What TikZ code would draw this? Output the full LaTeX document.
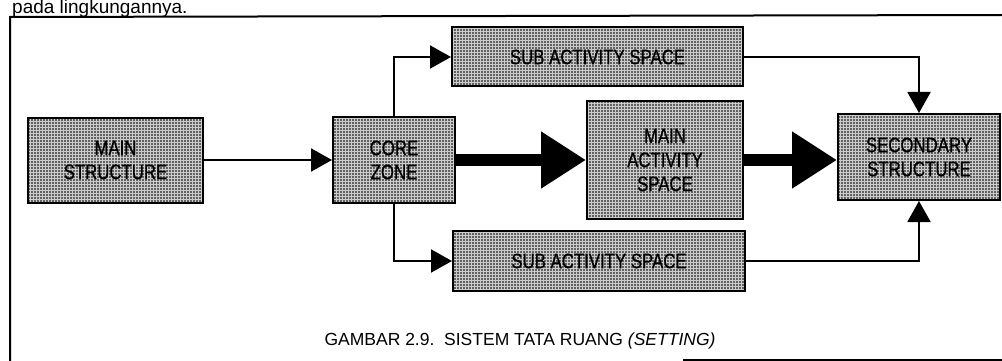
\documentclass[tikz,border=0pt]{standalone}
\usepackage{fontspec}
\setmainfont{Liberation Sans}
\newfontfamily\boxfont[FakeStretch=0.8, FakeBold=0.6]{Liberation Sans}
\usepackage{tikz}
\usetikzlibrary{arrows.meta, patterns}

\begin{document}
\begin{tikzpicture}[
    x=1pt, y=-1pt,
    box/.style={draw, line width=2pt, rectangle, align=center, font=\boxfont\fontsize{21}{24}\selectfont,
        preaction={fill=black!62}, pattern=grid, pattern color=white!80!black, inner sep=0pt},
    arrow/.style={-{Triangle[length=21pt, width=23pt]}, line width=2pt},
    bigarrow/.style={-{Triangle[length=45pt, width=54pt]}, line width=12pt}
]
\useasboundingbox (0,0) rectangle (1002,361);
\clip (0,0) rectangle (1002,361);

% Page text and frame
\node[anchor=base west, inner sep=0pt, font=\fontsize{19}{19}\selectfont] (pagetext) at (12,13.8) {pada lingkungannya.};
\draw[line width=2pt] (10,361) -- (10,17) -- (1002,15);
\draw[line width=2pt] (683,360) -- (1002,360);

% Nodes
\node[box, minimum width=175pt, minimum height=85pt] (mainstr) at (115.5,160) {MAIN\\STRUCTURE};
\node[box, minimum width=122pt, minimum height=86pt] (core) at (394,160) {CORE\\ZONE};
\node[box, minimum width=291pt, minimum height=59pt] (subtop) at (597.5,57) {SUB ACTIVITY SPACE};
\node[box, minimum width=156pt, minimum height=118pt] (mainact) at (665,160) {MAIN\\ACTIVITY\\SPACE};
\node[box, minimum width=162pt, minimum height=86pt] (secstr) at (919,157) {SECONDARY\\STRUCTURE};
\node[box, minimum width=292pt, minimum height=60pt] (subbot) at (599,261) {SUB ACTIVITY SPACE};

% Caption
\node[font=\fontsize{17.5}{17.5}\selectfont, anchor=base] (caption) at (520,345) {GAMBAR 2.9.\ \ SISTEM TATA RUANG \textit{(SETTING)}};

% Connections
\draw[arrow] (mainstr.east) -- (core.west);
\draw[arrow] (core.north) |- (subtop.west);
\draw[arrow] (core.south) |- (subbot.west);
\draw[bigarrow] (core.east) -- (mainact.west);
\draw[bigarrow] (mainact.east) -- (mainact.east -| secstr.west);
\draw[arrow] (subtop.east) -| (secstr.north);
\draw[arrow] (subbot.east) -| (secstr.south);

\end{tikzpicture}
\end{document}
